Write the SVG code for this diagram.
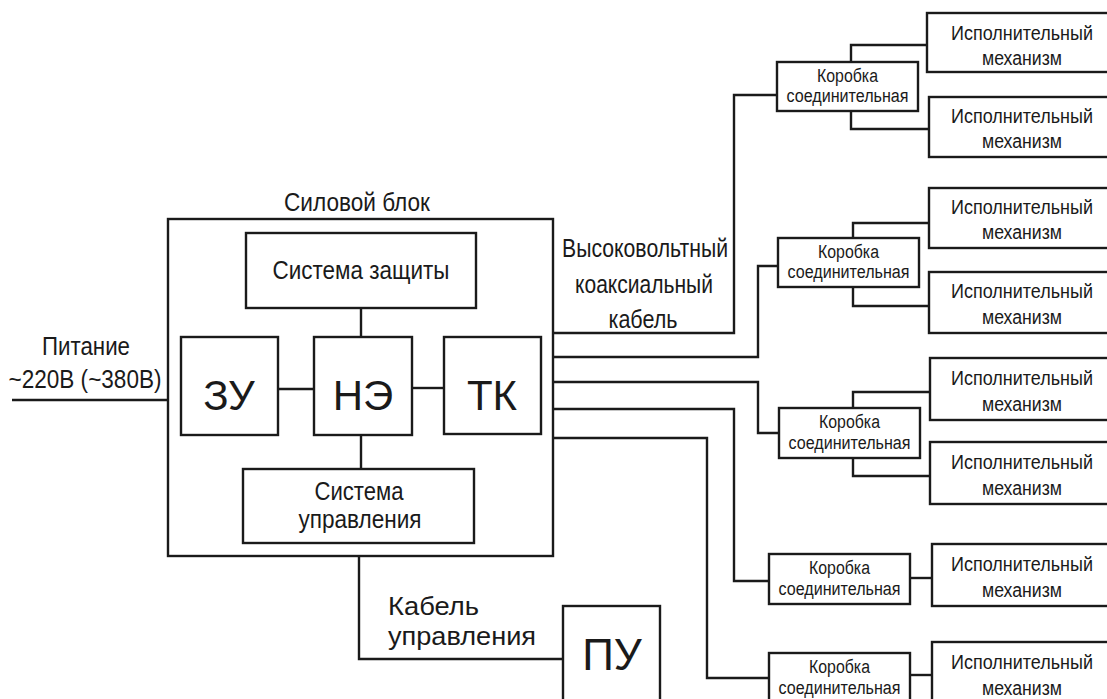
<svg xmlns="http://www.w3.org/2000/svg" width="1107" height="699" viewBox="0 0 1107 699">
<style>
rect{fill:#fff;stroke:#1a1a1a;stroke-width:2.4}
.c path,.c line{fill:none;stroke:#1a1a1a;stroke-width:2.4}
text{font-family:"Liberation Sans",Arial,sans-serif;fill:#1a1a1a;text-anchor:middle}
.m{font-size:25px}
.b{font-size:42px}
.k{font-size:18px}
.e{font-size:20px}
</style>
<rect x="0" y="0" width="1107" height="699" style="stroke:none"/>
<g id="power-block">
<rect x="168" y="219" width="385" height="337"/>
<text class="m" x="357" y="211" textLength="146" lengthAdjust="spacingAndGlyphs">Силовой блок</text>
</g>
<g class="c" id="connectors">
<line x1="361" y1="308" x2="361" y2="337"/>
<line x1="278" y1="389" x2="314" y2="389"/>
<line x1="412" y1="388" x2="444" y2="388"/>
<line x1="361" y1="435" x2="361" y2="469"/>
<line x1="12" y1="400" x2="168" y2="400"/>
<path d="M359 556V659H563"/>
<path d="M553 333H734V95H777"/>
<path d="M553 357H758V266H778"/>
<path d="M553 382H758V433H779"/>
<path d="M553 409H734V581H769"/>
<path d="M553 438H707V678H769"/>
<path d="M927 45H851V62M851 111V129H929"/>
<path d="M929 223H853V238M853 287V306H929"/>
<path d="M930 392H853V408M853 458V476H930"/>
<line x1="910" y1="578" x2="932" y2="578"/>
<line x1="910" y1="675" x2="932" y2="675"/>
</g>
<g id="supply-label">
<text class="m" x="86" y="355" textLength="88" lengthAdjust="spacingAndGlyphs">Питание</text>
<text class="m" x="85" y="388" textLength="153" lengthAdjust="spacingAndGlyphs">~220В (~380В)</text>
</g>
<g id="protection">
<rect x="246" y="233" width="230" height="75"/>
<text class="m" x="361" y="279" textLength="177" lengthAdjust="spacingAndGlyphs">Система защиты</text>
</g>
<g id="zu"><rect x="181" y="337" width="97" height="98"/><text class="b" x="229" y="410">ЗУ</text></g>
<g id="ne"><rect x="314" y="337" width="98" height="98"/><text class="b" x="363" y="410">НЭ</text></g>
<g id="tk"><rect x="444" y="337" width="97" height="97"/><text class="b" x="492" y="410">ТК</text></g>
<g id="control">
<rect x="243" y="469" width="231" height="74"/>
<text class="m" x="359" y="500" textLength="89" lengthAdjust="spacingAndGlyphs">Система</text>
<text class="m" x="360" y="528" textLength="123" lengthAdjust="spacingAndGlyphs">управления</text>
</g>
<g id="hv-cable-label">
<text class="m" x="645" y="257" textLength="166" lengthAdjust="spacingAndGlyphs">Высоковольтный</text>
<text class="m" x="644" y="293" textLength="138" lengthAdjust="spacingAndGlyphs">коаксиальный</text>
<text class="m" x="643" y="328" textLength="69" lengthAdjust="spacingAndGlyphs">кабель</text>
</g>
<g id="ctrl-cable-label">
<text class="m" x="388" y="615" style="text-anchor:start;font-size:26px" textLength="91" lengthAdjust="spacingAndGlyphs">Кабель</text>
<text class="m" x="388" y="645" style="text-anchor:start;font-size:26px" textLength="148" lengthAdjust="spacingAndGlyphs">управления</text>
</g>
<g id="pu"><rect x="563" y="606" width="97" height="120"/><text class="b" x="612" y="670" style="font-size:44px">ПУ</text></g>
<g id="box1"><rect x="777" y="62" width="141" height="49"/>
<text class="k" x="847.5" y="82" textLength="61" lengthAdjust="spacingAndGlyphs">Коробка</text>
<text class="k" x="847.5" y="102" textLength="122" lengthAdjust="spacingAndGlyphs">соединительная</text></g>
<g id="box2"><rect x="778" y="238" width="141" height="49"/>
<text class="k" x="848.5" y="258" textLength="61" lengthAdjust="spacingAndGlyphs">Коробка</text>
<text class="k" x="848.5" y="278" textLength="122" lengthAdjust="spacingAndGlyphs">соединительная</text></g>
<g id="box3"><rect x="779" y="408" width="141" height="50"/>
<text class="k" x="849.5" y="428" textLength="61" lengthAdjust="spacingAndGlyphs">Коробка</text>
<text class="k" x="849.5" y="449" textLength="122" lengthAdjust="spacingAndGlyphs">соединительная</text></g>
<g id="box4"><rect x="769" y="554" width="141" height="50"/>
<text class="k" x="839.5" y="574" textLength="61" lengthAdjust="spacingAndGlyphs">Коробка</text>
<text class="k" x="839.5" y="595" textLength="122" lengthAdjust="spacingAndGlyphs">соединительная</text></g>
<g id="box5"><rect x="769" y="653" width="141" height="50"/>
<text class="k" x="839.5" y="673" textLength="61" lengthAdjust="spacingAndGlyphs">Коробка</text>
<text class="k" x="839.5" y="694" textLength="122" lengthAdjust="spacingAndGlyphs">соединительная</text></g>
<g id="act1"><rect x="927" y="13" width="190" height="59"/>
<text class="e" x="1022" y="40" textLength="142" lengthAdjust="spacingAndGlyphs">Исполнительный</text>
<text class="e" x="1022" y="65" textLength="80" lengthAdjust="spacingAndGlyphs">механизм</text></g>
<g id="act2"><rect x="929" y="97" width="190" height="60"/>
<text class="e" x="1022" y="123" textLength="142" lengthAdjust="spacingAndGlyphs">Исполнительный</text>
<text class="e" x="1022" y="148" textLength="80" lengthAdjust="spacingAndGlyphs">механизм</text></g>
<g id="act3"><rect x="929" y="188" width="190" height="60"/>
<text class="e" x="1022" y="214" textLength="142" lengthAdjust="spacingAndGlyphs">Исполнительный</text>
<text class="e" x="1022" y="239" textLength="80" lengthAdjust="spacingAndGlyphs">механизм</text></g>
<g id="act4"><rect x="929" y="272" width="190" height="61"/>
<text class="e" x="1022" y="298" textLength="142" lengthAdjust="spacingAndGlyphs">Исполнительный</text>
<text class="e" x="1022" y="324" textLength="80" lengthAdjust="spacingAndGlyphs">механизм</text></g>
<g id="act5"><rect x="930" y="358" width="190" height="62"/>
<text class="e" x="1022" y="385" textLength="142" lengthAdjust="spacingAndGlyphs">Исполнительный</text>
<text class="e" x="1022" y="411" textLength="80" lengthAdjust="spacingAndGlyphs">механизм</text></g>
<g id="act6"><rect x="930" y="442" width="190" height="62"/>
<text class="e" x="1022" y="469" textLength="142" lengthAdjust="spacingAndGlyphs">Исполнительный</text>
<text class="e" x="1022" y="495" textLength="80" lengthAdjust="spacingAndGlyphs">механизм</text></g>
<g id="act7"><rect x="932" y="544" width="190" height="62"/>
<text class="e" x="1022" y="571" textLength="142" lengthAdjust="spacingAndGlyphs">Исполнительный</text>
<text class="e" x="1022" y="597" textLength="80" lengthAdjust="spacingAndGlyphs">механизм</text></g>
<g id="act8"><rect x="932" y="642" width="190" height="70"/>
<text class="e" x="1022" y="669" textLength="142" lengthAdjust="spacingAndGlyphs">Исполнительный</text>
<text class="e" x="1022" y="695" textLength="80" lengthAdjust="spacingAndGlyphs">механизм</text></g>
</svg>
